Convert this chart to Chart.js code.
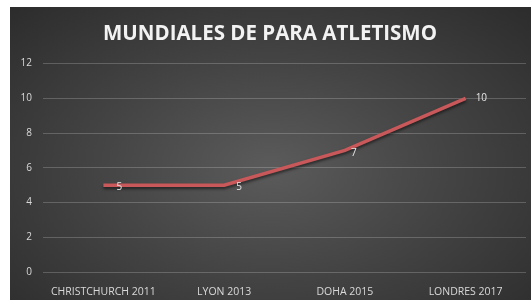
<!DOCTYPE html>
<html>
<head>
<meta charset="utf-8">
<script src="https://cdn.jsdelivr.net/npm/chart.js@4"></script>
<style>
  html, body { margin: 0; padding: 0; background: #fff; }
  #wrap {
    position: absolute; left: 10px; top: 7px; width: 521px; height: 293px;
    background: radial-gradient(ellipse at 50% 55%, #5b5b5b 0%, #454545 45%, #2c2c2c 100%);
  }
</style>
</head>
<body>
<div id="wrap"><canvas id="chart"></canvas></div>
<script>
const categories = ['CHRISTCHURCH 2011', 'LYON 2013', 'DOHA 2015', 'LONDRES 2017'];
const medals = [5, 5, 7, 10];
const yTicks = [0, 2, 4, 6, 8, 10, 12];

// labels next to each point, Excel style
const pointLabels = {
    id: 'pointLabels',
    afterDatasetsDraw(chart) {
        const ctx = chart.ctx;
        const meta = chart.getDatasetMeta(0);
        const dx = [13, 12, 6, 10];
        const dy = [2, 2, 3, 0];
        ctx.save();
        ctx.fillStyle = '#e6e6e6';
        ctx.font = '10px "Open Sans", sans-serif';
        ctx.textBaseline = 'middle';
        ctx.textAlign = 'left';
        meta.data.forEach((pt, i) => {
            ctx.fillText(String(medals[i]), pt.x + dx[i], pt.y + dy[i]);
        });
        ctx.restore();
    }
};

const lineShadow = {
    id: 'lineShadow',
    beforeDatasetsDraw(chart) {
        const ctx = chart.ctx;
        ctx.save();
        ctx.shadowColor = 'rgba(0,0,0,0.55)';
        ctx.shadowBlur = 3;
        ctx.shadowOffsetY = 2;
    },
    afterDatasetsDraw(chart) {
        chart.ctx.restore();
    }
};

new Chart(document.getElementById('chart').getContext('2d'), {
    type: 'line',
    data: {
        labels: categories,
        datasets: [{
            data: medals,
            borderColor: '#c9585a',
            borderWidth: 3.5,
            pointRadius: 0,
            tension: 0,
            fill: false
        }]
    },
    plugins: [lineShadow, pointLabels],
    options: {
        responsive: true,
        maintainAspectRatio: false,
        animation: false,
        layout: { padding: { top: 0, right: 5, left: 4, bottom: 2 } },
        plugins: {
            legend: { display: false },
            tooltip: { enabled: false },
            title: {
                display: true,
                text: 'MUNDIALES DE PARA ATLETISMO',
                color: '#f2f2f2',
                font: { family: '"Open Sans", sans-serif', size: 20.5, weight: 'bold' },
                padding: { top: 15, bottom: 17 }
            }
        },
        scales: {
            x: {
                offset: true,
                grid: { display: false },
                border: { display: false },
                afterFit: s => { s.height = 26; },
                ticks: {
                    color: '#d9d9d9',
                    font: { family: '"Open Sans", sans-serif', size: 10.5 },
                    maxRotation: 0,
                    padding: 6
                }
            },
            y: {
                min: yTicks[0],
                max: yTicks[yTicks.length - 1],
                grid: { color: 'rgba(255,255,255,0.2)', drawTicks: false },
                border: { display: false },
                afterFit: s => { s.width = 29; },
                ticks: {
                    stepSize: 2,
                    color: '#d9d9d9',
                    font: { family: '"Open Sans", sans-serif', size: 10 },
                    padding: 11
                }
            }
        }
    }
});
</script>
</body>
</html>
